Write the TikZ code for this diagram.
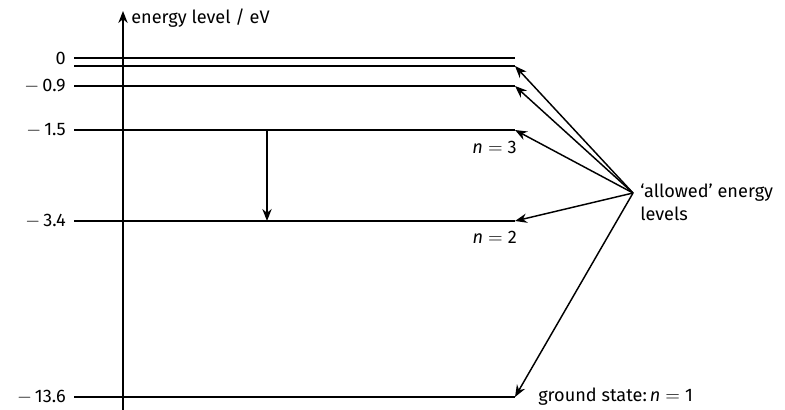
\documentclass[tikz,border=0pt]{standalone}
\usepackage{fontspec}
\setmainfont{Fira Sans}
\usetikzlibrary{arrows.meta}

\begin{document}
\begin{tikzpicture}[
x=0.75pt, y=-0.75pt,
font=\fontsize{13.6}{17}\selectfont,
level/.style={line width=1.3pt},
arrow/.style={-{Stealth[length=9pt, width=7pt]}, line width=1.1pt},
value/.style={anchor=east, inner sep=0pt},
quantum/.style={anchor=north east, inner sep=0pt}
]
\useasboundingbox (0,0) rectangle (785,410);
% axis
\coordinate (axisbot) at (123,410);
\coordinate (axistop) at (123,11);
\draw[arrow] (axisbot) -- (axistop);
\node[anchor=west, inner sep=0pt] (axislabel) at (131,18) {energy level / eV};
% levels
\foreach \name/\y in {e0/58, e1/66, e09/86, e15/130, e34/221, e136/397}
  \draw[level] (74,\y) -- (515,\y) coordinate (\name);
\node[value] (v0) at (66,58) {0};
\node[value] (v09) at (66,86) {$-$\,0.9};
\node[value] (v15) at (66,130) {$-$\,1.5};
\node[value] (v34) at (66,221) {$-$\,3.4};
\node[value] (v136) at (66,397) {$-$\,13.6};
% quantum numbers
\node[quantum] (n3) at (517,141) {\textit{n}\;$=$\;3};
\node[quantum] (n2) at (517,231) {\textit{n}\;$=$\;2};
\node[anchor=west, inner sep=0pt] (ground) at (538,397) {ground state:\,\textit{n}\;$=$\;1};
% transition
\coordinate (jumptop) at (267,130);
\coordinate (jumpbot) at (267,221);
\draw[arrow] (jumptop) -- (jumpbot);
% pointer label
\coordinate (hub) at (633,193);
\node[anchor=north west, align=left, inner sep=0pt] (allowed) at (640,184) {‘allowed’ energy\\levels};
\foreach \target in {e1, e09, e15, e34, e136}
  \draw[arrow] (hub) -- (\target);
\end{tikzpicture}
\end{document}
